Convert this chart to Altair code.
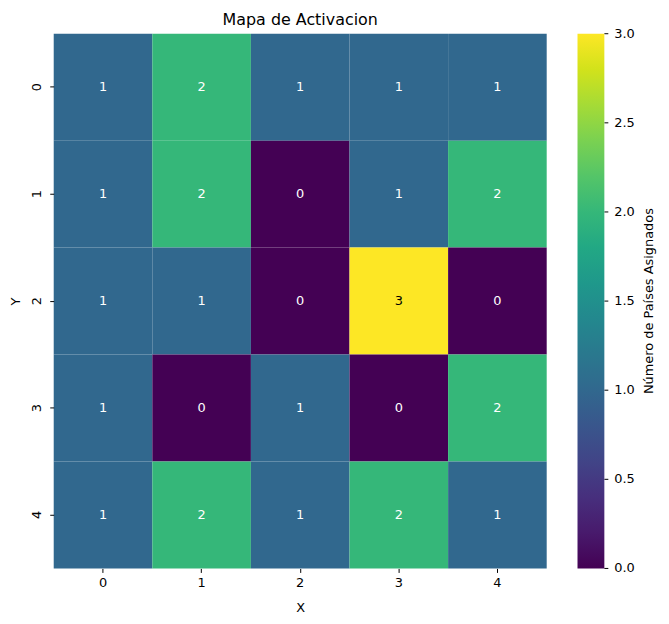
import altair as alt
import pandas as pd

# Activation counts per grid cell (row = Y, column = X)
row_0 = [1, 2, 1, 1, 1]
row_1 = [1, 2, 0, 1, 2]
row_2 = [1, 1, 0, 3, 0]
row_3 = [1, 0, 1, 0, 2]
row_4 = [1, 2, 1, 2, 1]
grid = [row_0, row_1, row_2, row_3, row_4]

legend_ticks = [0.0, 0.5, 1.0, 1.5, 2.0, 2.5, 3.0]
colorbar_title = ["Número de Países Asignados"]

records = []
for y, row in enumerate(grid):
    for x, val in enumerate(row):
        records.append({"x": x, "y": y, "count": val})
df = pd.DataFrame(records)

font = "DejaVu Sans"

base = alt.Chart(df).encode(
    x=alt.X(
        "x:O",
        title="X",
        scale=alt.Scale(paddingInner=0, paddingOuter=0),
        axis=alt.Axis(labelAngle=0, domain=False, tickSize=4, labelPadding=4,
                      titlePadding=12),
    ),
)

y_enc = alt.Y(
    "y:O",
    title="Y",
    scale=alt.Scale(paddingInner=0, paddingOuter=0),
    axis=alt.Axis(labelAngle=270, domain=False, tickSize=4, labelPadding=6,
                  labelAlign="center", labelBaseline="bottom", titlePadding=8),
)

cells = base.mark_rect().encode(
    y=y_enc,
    color=alt.Color(
        "count:Q",
        title=None,
        scale=alt.Scale(scheme="viridis", domain=[0, 3]),
        legend=alt.Legend(
            type="gradient",
            values=legend_ticks,
            gradientLength=538,
            gradientThickness=27,
            offset=31,
            labelExpr="''",
        ),
    ),
)

labels = base.mark_text(fontSize=13, font=font).encode(
    y=alt.Y("y:O", scale=alt.Scale(paddingInner=0, paddingOuter=0), axis=None),
    text="count:Q",
    color=alt.condition(alt.datum.count >= 3, alt.value("black"), alt.value("white")),
)

# colorbar ticks and labels, drawn on their own 0-3 scale
tick_df = pd.DataFrame({"v": legend_ticks})
cbar_y = alt.Y("v:Q", scale=alt.Scale(domain=[0, 3], nice=False), axis=None)

cbar_ticks = (
    alt.Chart(tick_df)
    .mark_rule(color="black", strokeWidth=1)
    .encode(x=alt.value(554), x2=alt.value(558), y=cbar_y)
)

cbar_labels = (
    alt.Chart(tick_df)
    .mark_text(align="left", baseline="middle", fontSize=13, font=font, color="black")
    .encode(x=alt.value(564), y=cbar_y, text=alt.Text("v:Q", format=".1f"))
)

cbar_title = (
    alt.Chart(pd.DataFrame({"t": colorbar_title}))
    .mark_text(angle=270, fontSize=13, font=font, color="black")
    .encode(x=alt.value(599), y=alt.value(269), text="t:N")
)

chart = (
    alt.layer(cells, labels, cbar_ticks, cbar_labels, cbar_title)
    .resolve_scale(y="independent")
    .properties(
        width=496,
        height=538,
        padding={"left": 2, "top": 2, "right": 5, "bottom": 5},
        title=alt.TitleParams("Mapa de Activacion", fontSize=16, fontWeight="normal",
                              font=font, offset=0),
    )
    .configure_view(stroke=None)
    .configure_axis(labelFont=font, titleFont=font, labelFontSize=13,
                    titleFontSize=13, titleFontWeight="normal", labelColor="black",
                    titleColor="black", tickColor="black")
)

chart.save("out.html", embed_options={"renderer": "svg", "actions": False})
